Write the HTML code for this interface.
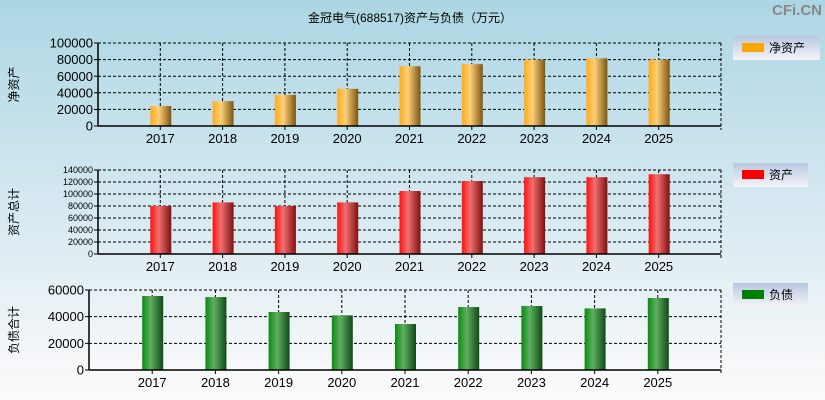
<!DOCTYPE html>
<html><head><meta charset="utf-8"><style>
body{margin:0;width:825px;height:400px;overflow:hidden;font-family:"Liberation Sans","Noto Sans CJK SC",sans-serif}
svg{display:block}
</style></head><body>
<svg id="c" width="825" height="400" xmlns="http://www.w3.org/2000/svg">
<defs>
<linearGradient id="bg" x1="0" y1="0" x2="0" y2="1"><stop offset="0" stop-color="#acd6e4"/><stop offset="0.5" stop-color="#d4e8f0"/><stop offset="1" stop-color="#fdfbfb"/></linearGradient>
<linearGradient id="go" x1="0" x2="1"><stop offset="0" stop-color="#ffaa1a"/><stop offset="0.4" stop-color="#fcd07a"/><stop offset="1" stop-color="#7c5510"/></linearGradient>
<linearGradient id="gr" x1="0" x2="1"><stop offset="0" stop-color="#ff1010"/><stop offset="0.4" stop-color="#f07070"/><stop offset="1" stop-color="#801010"/></linearGradient>
<linearGradient id="gg" x1="0" x2="1"><stop offset="0" stop-color="#0a8a12"/><stop offset="0.4" stop-color="#60b060"/><stop offset="1" stop-color="#104a18"/></linearGradient>
<linearGradient id="lg" x1="0" y1="0" x2="0" y2="1"><stop offset="0" stop-color="#b8c8e0"/><stop offset="1" stop-color="#f4f4f8"/></linearGradient>
</defs>
<rect width="825" height="400" fill="url(#bg)"/>
<text x="410" y="22" font-size="12" text-anchor="middle">金冠电气(688517)资产与负债（万元）</text>
<text x="822" y="15" font-size="15" font-weight="bold" fill="#888" text-anchor="end">CFi.CN</text>
<g id="g"></g>
</svg>
<script>
const years=["2017","2018","2019","2020","2021","2022","2023","2024","2025"];
const netAssets=[24000,30000,37500,44800,72000,74500,80000,81500,80000];
const totalAssets=[80000,86000,80000,86000,105000,121700,128000,128000,133000];
const liabilities=[55500,54700,43500,41000,34500,47200,48000,46200,54000];
const ticks1=[0,20000,40000,60000,80000,100000];
const ticks2=[0,20000,40000,60000,80000,100000,120000,140000];
const ticks3=[0,20000,40000,60000];
const NS="http://www.w3.org/2000/svg";
const g=document.getElementById('g');
function el(t,a,p){const e=document.createElementNS(NS,t);for(const k in a)e.setAttribute(k,a[k]);(p||g).appendChild(e);return e;}
function panel(o){
  const {x0,x1,top,bot,max,ticks,vals,fill,fs,ytitle,lab,lx,ly,lw,name,color}=o;
  const step=(x1-x0)/10;
  const X=i=>x0+(i+1)*step;
  const Y=v=>bot-(v/max)*(bot-top);
  ticks.forEach(t=>{
    const y=Y(t);
    if(t>0){const l=el('line',{x1:x0,x2:x1,y1:y,y2:y,stroke:'#000','stroke-dasharray':'3,2'});
    }
    el('line',{x1:x0-4,x2:x0,y1:y,y2:y,stroke:'#000'});
    const tx=el('text',{x:x0-5,y:y+fs*0.35,'font-size':fs,'text-anchor':'end'});tx.textContent=t;
    
  });
  years.forEach((yr,i)=>{
    const x=X(i);
    el('line',{x1:x,x2:x,y1:top,y2:bot,stroke:'#000','stroke-dasharray':'3,2'});
    const b=el('rect',{x:x-10,y:Y(vals[i]),width:21,height:bot-Y(vals[i]),fill:fill});
    
    el('line',{x1:x,x2:x,y1:bot,y2:bot+4,stroke:'#000'});
    const t=el('text',{x:x,y:bot+17,'font-size':13,'text-anchor':'middle'});t.textContent=yr;
    
  });
  el('line',{x1:x1,x2:x1,y1:top,y2:bot+4,stroke:'#000','stroke-dasharray':'3,2'});
  el('line',{x1:x0,x2:x1,y1:top,y2:top,stroke:'#000','stroke-dasharray':'3,2'});
  el('line',{x1:x0,x2:x0,y1:top,y2:bot,stroke:'#000','stroke-width':1.5});
  el('line',{x1:x0,x2:x1,y1:bot,y2:bot,stroke:'#000','stroke-width':1.5});
  const cy=(top+bot)/2;
  const yt=el('text',{x:0,y:0,'font-size':12,'text-anchor':'middle',transform:`translate(18,${cy}) rotate(-90)`});yt.textContent=ytitle;
  
  const lgd=el('g',{});
  
  el('rect',{x:lx,y:ly,width:lw,height:24,fill:'url(#lg)'},lgd);
  el('rect',{x:lx+9,y:ly+7,width:22,height:9,fill:color},lgd);
  const lt=el('text',{x:lx+36,y:ly+16,'font-size':12},lgd);lt.textContent=lab;
}
panel({x0:98,x1:721,top:43,bot:126,max:100000,ticks:ticks1,vals:netAssets,fill:'url(#go)',fs:13,ytitle:'净资产',lab:'净资产',lx:733,ly:36,lw:87,name:'net-assets',color:'#ffa500'});
panel({x0:98,x1:721,top:170,bot:254,max:140000,ticks:ticks2,vals:totalAssets,fill:'url(#gr)',fs:9,ytitle:'资产总计',lab:'资产',lx:733,ly:163,lw:75,name:'total-assets',color:'#ff0000'});
panel({x0:89,x1:721,top:290,bot:370,max:60000,ticks:ticks3,vals:liabilities,fill:'url(#gg)',fs:13,ytitle:'负债合计',lab:'负债',lx:733,ly:283,lw:75,name:'liabilities',color:'#008000'});
</script>
</body></html>
